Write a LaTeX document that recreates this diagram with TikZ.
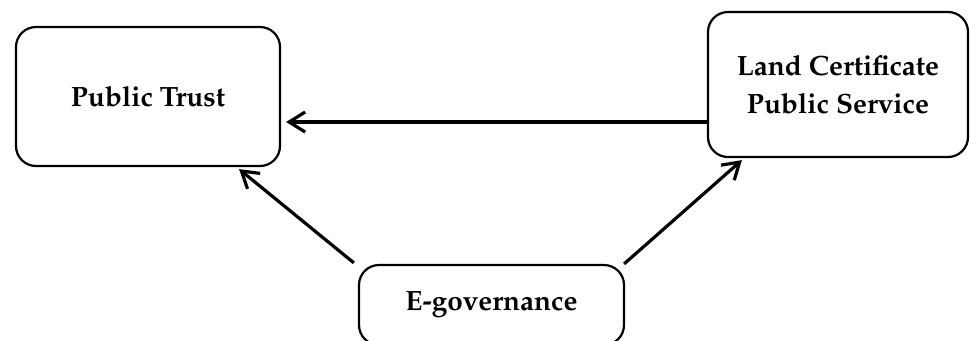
\documentclass[tikz,border=0pt]{standalone}
\usepackage[T1]{fontenc}
\usepackage{mathpazo}
\usetikzlibrary{arrows.meta, calc}
\tikzset{
  every picture/.style={font=\fontsize{14}{19}\selectfont\bfseries, line width=1.1bp},
  box/.style={draw=black, rounded corners=10bp, align=center, inner sep=0pt},
  arrow/.style={-{Straight Barb[length=8bp, width=10bp]}, line width=1.6bp},
}

\begin{document}
\begin{tikzpicture}[x=0.5bp, y=-0.5bp]
  \useasboundingbox (0,0) rectangle (970,340);
  % the three boxes
  \node[box, minimum width=132bp, minimum height=69.5bp] (trust) at (148,96.5) {Public Trust};
  \node[box, minimum width=130bp, minimum height=72.5bp] (land) at (838,84.5) {Land Certificate\\Public Service};
  \node[box, minimum width=132.5bp, minimum height=40bp] (egov) at (491.5,305) {E-governance};
  % links
  \coordinate (hs) at ($(land.west)+(0,37.5)$);
  \draw[arrow, shorten >=2.5bp] (hs) -- (hs -| trust.east);
  \draw[arrow] ($(egov.north west)+(-4,-1)$) -- ($(trust.south east)+(-42,2)$);
  \draw[arrow] ($(egov.north east)+(-1,0)$) -- ($(land.south west)+(35,2)$);
\end{tikzpicture}
\end{document}
